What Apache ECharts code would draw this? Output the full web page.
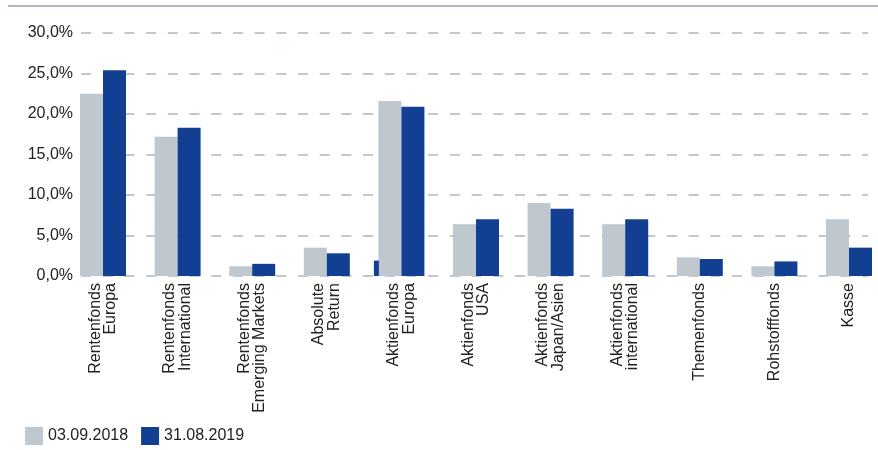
<!DOCTYPE html>
<html>
<head>
<meta charset="utf-8">
<script src="https://cdn.jsdelivr.net/npm/echarts@6/dist/echarts.min.js"></script>
<style>html,body{margin:0;padding:0;background:#fff}#c{width:878px;height:450px}</style>
</head>
<body>
<div id="c"></div>
<script>
var categories = ['Rentenfonds\nEuropa', 'Rentenfonds\nInternational', 'Rentenfonds\nEmerging Markets', 'Absolute\nReturn', 'Aktienfonds\nEuropa', 'Aktienfonds\nUSA', 'Aktienfonds\nJapan/Asien', 'Aktienfonds\ninternational', 'Themenfonds', 'Rohstofffonds', 'Kasse'];
var series2018 = [22.5, 17.2, 1.2, 3.5, 21.6, 6.4, 9.0, 6.4, 2.3, 1.2, 7.0];
var series2019 = [25.4, 18.3, 1.5, 2.8, 20.9, 7.0, 8.3, 7.0, 2.1, 1.8, 3.5];
var strayValues = ['-', '-', '-', '-', 1.9, '-', '-', '-', '-', '-', '-'];
var yTicks = [0, 5, 10, 15, 20, 25, 30];
var seriesNames = ['03.09.2018', '31.08.2019'];

var chart = echarts.init(document.getElementById('c'));
var font = '"Liberation Sans", Arial, sans-serif';
var yMin = yTicks[0], yMax = yTicks[yTicks.length - 1];
chart.setOption({
  animation: false,
  graphic: [{
    type: 'line', shape: {x1: 8, y1: 6, x2: 878, y2: 6},
    style: {stroke: '#8fa2b6', lineWidth: 1.5}
  }],
  legend: {
    data: seriesNames, left: 25, top: 427, padding: 0, itemWidth: 18, itemHeight: 18, itemGap: 13,
    icon: 'rect',
    textStyle: {fontSize: 16, color: '#222', fontFamily: font}
  },
  grid: [
    {left: 81, right: 10, top: 33, bottom: 174},
    {left: 103, right: 29, top: 33, bottom: 174}
  ],
  xAxis: [
    {gridIndex: 0, type: 'category', data: categories, show: false},
    {gridIndex: 1, type: 'category', data: categories, boundaryGap: false,
      axisLine: {show: false}, axisTick: {show: false}, splitLine: {show: false},
      axisLabel: {interval: 0, rotate: 90, margin: 7, fontSize: 16, lineHeight: 15.5, color: '#222', fontFamily: font}
    },
    {gridIndex: 1, type: 'category', data: categories, boundaryGap: false, show: false}
  ],
  yAxis: [
    {gridIndex: 0, type: 'value', min: yMin, max: yMax, interval: 5,
      axisLine: {show: false}, axisTick: {show: false},
      axisLabel: {margin: 8, fontSize: 16, color: '#222', fontFamily: font,
        formatter: function (v) { return v.toFixed(1).replace('.', ',') + '%'; }},
      splitLine: {show: true, lineStyle: {color: '#c0c8d3', width: 2, type: [10, 11.7]}}
    },
    {gridIndex: 1, type: 'value', min: yMin, max: yMax, interval: 5, show: false, splitLine: {show: false}}
  ],
  series: [
    {name: seriesNames[0], type: 'bar', xAxisIndex: 1, yAxisIndex: 1, data: series2018, clip: false,
      barWidth: 23, barGap: 0, itemStyle: {color: '#bec8ce'}},
    {name: seriesNames[1], type: 'bar', xAxisIndex: 1, yAxisIndex: 1, data: series2019, clip: false,
      barWidth: 23, barGap: 0, itemStyle: {color: '#133f92'}},
    {name: 'stray', type: 'bar', xAxisIndex: 2, yAxisIndex: 1, data: strayValues, clip: false,
      barWidth: 5, barGap: 0, itemStyle: {color: '#133f92'}},
    {name: 'spacer', type: 'bar', xAxisIndex: 2, yAxisIndex: 1, data: [], clip: false,
      barWidth: 50, barGap: 0, itemStyle: {color: 'transparent'}}
  ]
});
</script>
</body>
</html>
